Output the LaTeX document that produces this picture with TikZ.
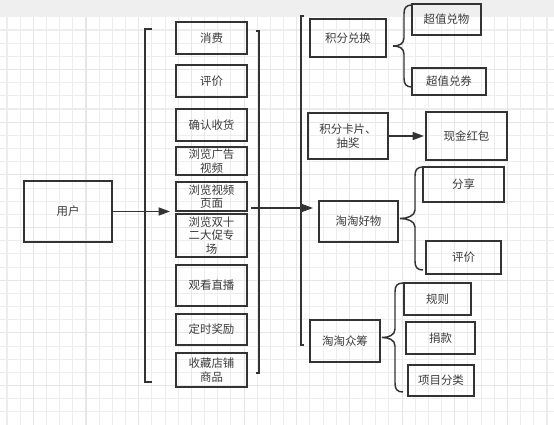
\documentclass[tikz,border=0pt]{standalone}
\usepackage{fontspec}
\newfontfamily\cjk{Noto Sans CJK SC}
\usepackage{xcolor}
\usetikzlibrary{arrows.meta}
\definecolor{linec}{HTML}{333333}
\definecolor{txtc}{HTML}{3C3C3C}
\definecolor{gridc}{HTML}{EDEDED}
\definecolor{gridmaj}{HTML}{E6E6E6}
\definecolor{barc}{HTML}{EFEFEF}

\begin{document}
\begin{tikzpicture}[x=0.75pt,y=0.75pt,yscale=-1,xscale=1,
  box/.style 2 args={draw=linec, line width=1.1pt, minimum width=#1*0.75pt, minimum height=#2*0.75pt,
    inner sep=0pt, align=center, text=txtc, font=\cjk\fontsize{8.6}{10.2}\selectfont},
  conn/.style={draw=linec, line width=1.1pt},
  arr/.style={conn, -{Triangle[length=8.5pt,width=6pt]}}]
\useasboundingbox (0,0) rectangle (554,425);

%Background grid
\fill[white] (0,0) rectangle (554,425);
\fill[barc] (0,0) rectangle (554,17);
\foreach \k in {0,...,41} \draw[gridc, line width=0.8pt] ({7+13.17*\k},17) -- ({7+13.17*\k},425);
\foreach \k in {0,...,29} \draw[gridc, line width=0.8pt] (0,{30+13.17*\k}) -- (554,{30+13.17*\k});
\foreach \k in {2,6,...,38} \draw[gridmaj, line width=0.8pt] ({7+13.17*\k},17) -- ({7+13.17*\k},425);
\foreach \k in {3,7,...,27} \draw[gridmaj, line width=0.8pt] (0,{30+13.17*\k}) -- (554,{30+13.17*\k});

%Shape: Rectangle
\node[box={88}{61}] (user) at (68,211.5) {用户};

%Shape: Rectangle
\node[box={71}{32}] (xiaofei) at (211.5,38) {消费};
\node[box={71}{32}] (pingjia) at (211.5,81) {评价};
\node[box={71}{32}] (shouhuo) at (211.5,125) {确认收货};
\node[box={71}{28}] (guanggao) at (211.5,161) {浏览广告\\视频};
\node[box={71}{29}] (shipin) at (211.5,196.5) {浏览视频\\页面};
\node[box={71}{43}] (shuang) at (211.5,235.5) {浏览双十\\二大促专\\场};
\node[box={71}{41}] (zhibo) at (211.5,285.5) {观看直播};
\node[box={71}{31}] (dingshi) at (211.5,329.5) {定时奖励};
\node[box={71}{34}] (shoucang) at (211.5,370) {收藏店铺\\商品};

%Shape: Rectangle
\node[box={76}{38}] (duihuan) at (348,38) {积分兑换};
\node[box={69}{31}] (duiwu) at (446.5,19.5) {超值兑物};
\node[box={74}{27}] (duiquan) at (449,81.5) {超值兑券};
\node[box={80}{46}] (kapian) at (348,136) {积分卡片、\\抽奖};
\node[box={81}{48}] (hongbao) at (466.5,136) {现金红包};
\node[box={79}{41}] (haowu) at (358.5,221.5) {淘淘好物};
\node[box={81}{35}] (fenxiang) at (463.5,184.5) {分享};
\node[box={75}{33}] (pingjiab) at (463.5,257.5) {评价};
\node[box={70}{42}] (zhongchou) at (345,341) {淘淘众筹};
\node[box={67}{32}] (guize) at (437.5,299) {规则};
\node[box={69}{32}] (juankuan) at (440.5,338) {捐款};
\node[box={66}{31}] (fenlei) at (441,380.5) {项目分类};

%Straight Lines
\draw[conn] (152,29) -- (145,29) -- (145,382) -- (152,382);
\draw[conn] (256,31) -- (259,31) -- (259,373) -- (256,373);
\draw[conn] (304,16) -- (301,16) -- (301,345) -- (304,345);

%Arrows
\coordinate (tipA) at (170,211.5);
\coordinate (outB) at (251,208);
\coordinate (tipB) at (313,208);
\draw[arr] (user.east) -- (tipA);
\draw[arr] (outB) -- (tipB);
\draw[arr, shorten >=1pt] (kapian.east) -- (hongbao.west);

%Curve Lines
\draw[conn] (412,5) .. controls (406,5) and (404,8) .. (404,14) -- (404,38)
  .. controls (404,44) and (399,46) .. (393,46) .. controls (399,46) and (404,48) .. (404,54)
  -- (404,78) .. controls (404,84) and (406,87) .. (412,87);
\draw[conn] (423,167) .. controls (417,167) and (415,170) .. (415,176) -- (415,210)
  .. controls (415,216) and (407,218.5) .. (400,218.5) .. controls (407,218.5) and (415,221) .. (415,227)
  -- (415,261) .. controls (415,267) and (417,270) .. (423,270);
\draw[conn] (403,283) .. controls (397,283) and (395,286) .. (395,292) -- (395,329)
  .. controls (395,335) and (389,337.5) .. (382,337.5) .. controls (389,337.5) and (395,340) .. (395,346)
  -- (395,383) .. controls (395,389) and (397,392) .. (403,392);
\end{tikzpicture}
\end{document}
